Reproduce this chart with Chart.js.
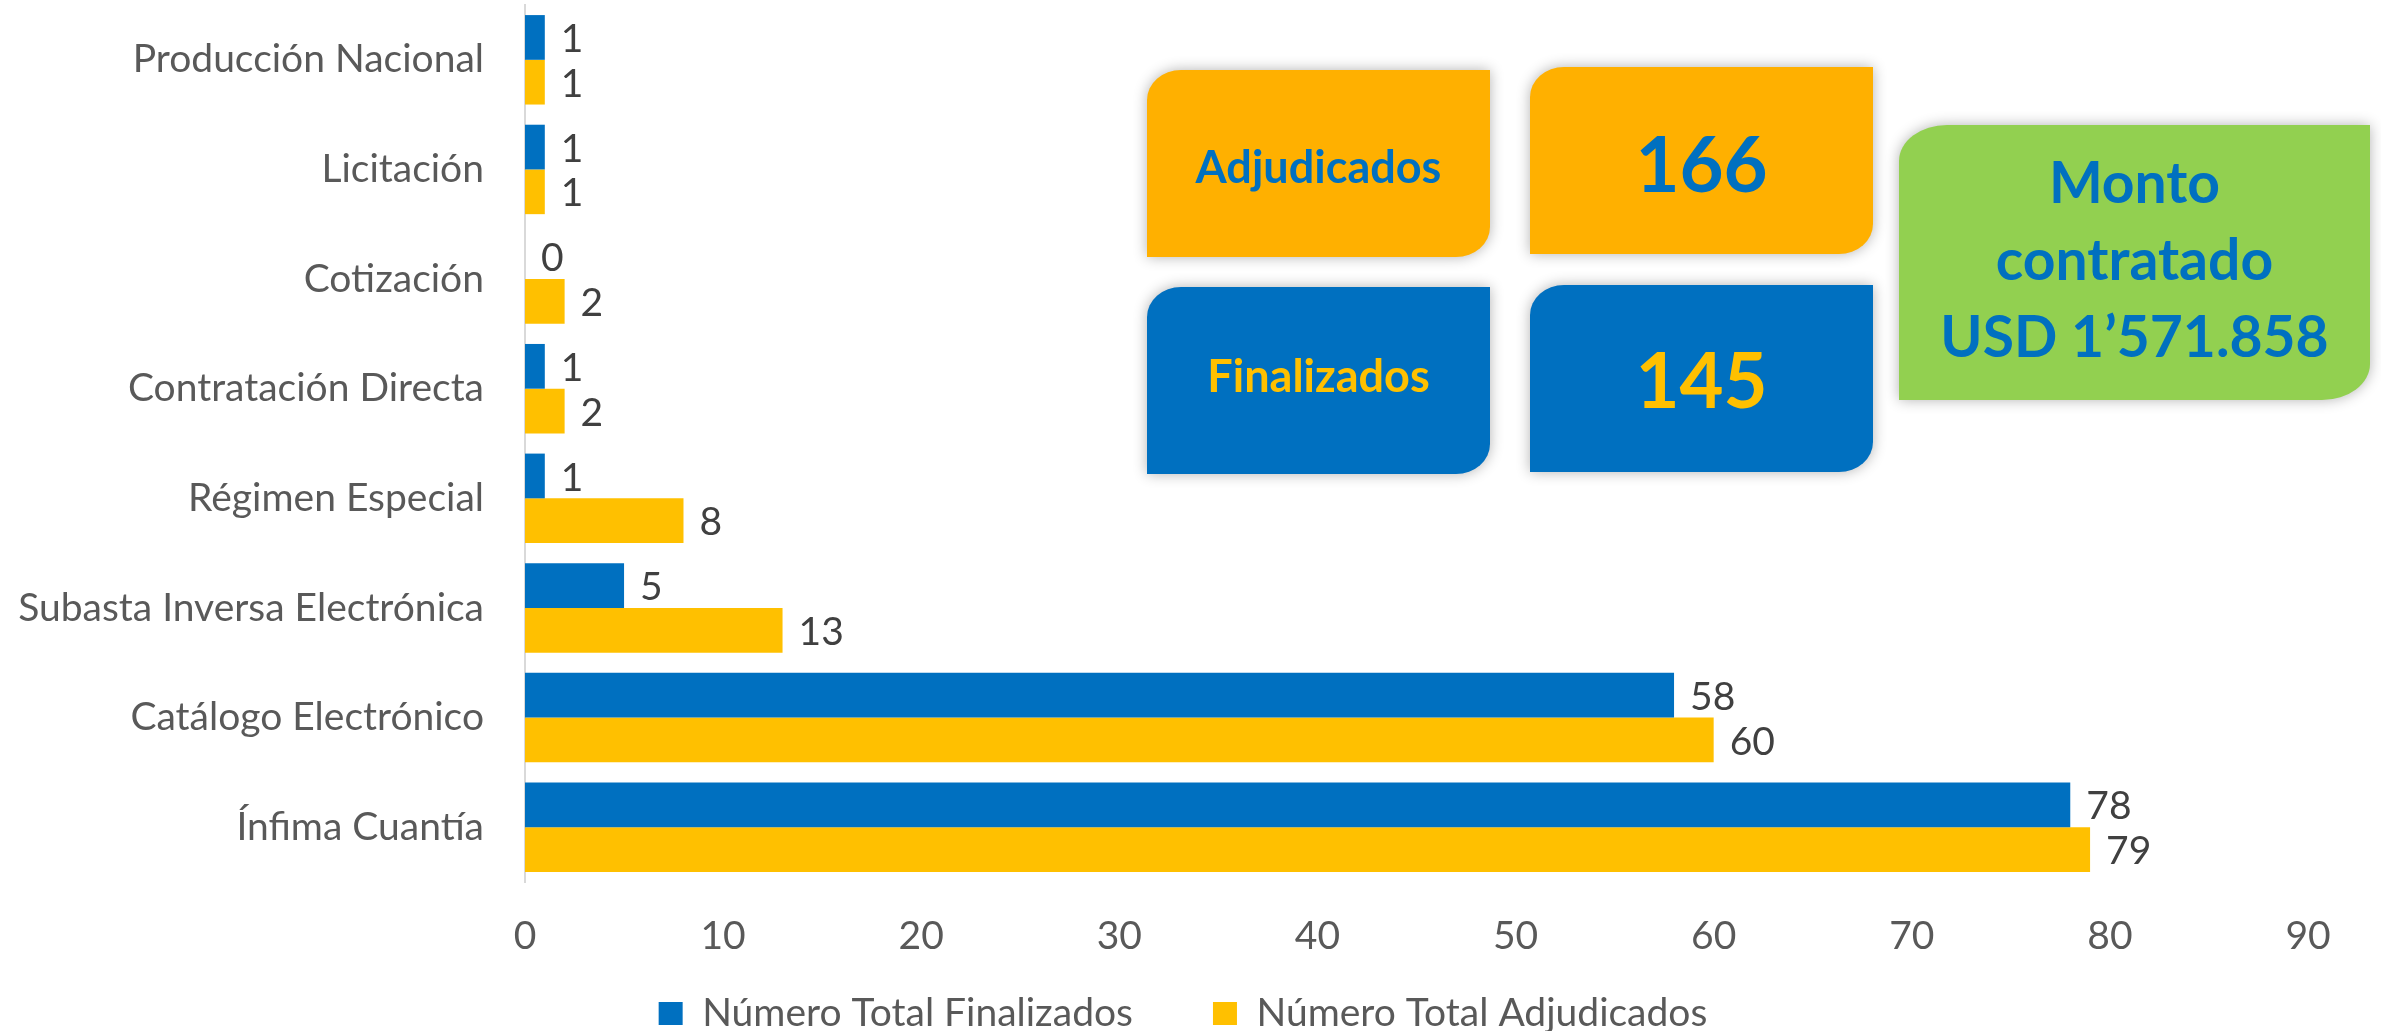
<!DOCTYPE html>
<html lang="es">
<head>
<meta charset="utf-8">
<title>Procesos de contratación</title>
<script src="https://cdn.jsdelivr.net/npm/chart.js@4.4.0/dist/chart.umd.min.js"></script>
<style>
  html, body { margin: 0; padding: 0; background: #fff; }
  .wrap { position: relative; width: 2381px; height: 1031px; overflow: hidden; }
  .box {
    position: absolute;
    display: flex;
    align-items: center;
    justify-content: center;
    text-align: center;
    font-family: Lato, sans-serif;
    font-weight: 700;
    box-shadow: 0 0 14px rgba(0, 0, 0, 0.3);
  }
</style>
</head>
<body>
<div class="wrap" id="wrap">
  <canvas id="chart" width="2381" height="1031"></canvas>
</div>
<script>
// datos
const categories = [
  'Producción Nacional',
  'Licitación',
  'Cotización',
  'Contratación Directa',
  'Régimen Especial',
  'Subasta Inversa Electrónica',
  'Catálogo Electrónico',
  'Ínfima Cuantía',
];
const finalizados = [1, 1, 0, 1, 1, 5, 58, 78];
const adjudicados = [1, 1, 2, 2, 8, 13, 60, 79];
const seriesNames = ['Número Total Finalizados', 'Número Total Adjudicados'];
const xTicks = [0, 10, 20, 30, 40, 50, 60, 70, 80, 90];

const summaryLabels = ['Adjudicados', 'Finalizados'];
const summaryTotals = ['166', '145'];
const montoLines = ['Monto', 'contratado', 'USD 1’571.858'];

const BLUE = '#0070C0';
const YELLOW = '#FFC000';
const FONT = 'Lato';
const TXT = 39;

// cajas de resumen (posiciones en px)
const smallR = '34px 0 34px 0 / 30px 0 30px 0';
const boxes = [
  { text: summaryLabels[0], x: 1147, y: 70, w: 343, h: 187, bg: '#FFB000', color: BLUE, size: 45, r: smallR, dy: 2 },
  { text: summaryTotals[0], x: 1530, y: 67, w: 343, h: 187, bg: '#FFB000', color: BLUE, size: 76, r: smallR, dy: 2 },
  { text: summaryLabels[1], x: 1147, y: 287, w: 343, h: 187, bg: BLUE, color: YELLOW, size: 45, r: smallR, dy: -6 },
  { text: summaryTotals[1], x: 1530, y: 285, w: 343, h: 187, bg: BLUE, color: YELLOW, size: 76, r: smallR, dy: 0 },
  { text: montoLines.join('<br>'), x: 1899, y: 125, w: 471, h: 275, bg: '#92D050', color: BLUE, size: 57, r: '48px 0 48px 0 / 36px 0 36px 0', lh: 77, dy: -4 },
];

const wrap = document.getElementById('wrap');
boxes.forEach((b) => {
  const el = document.createElement('div');
  el.className = 'box';
  el.style.left = b.x + 'px';
  el.style.top = b.y + 'px';
  el.style.width = b.w + 'px';
  el.style.height = b.h + 'px';
  el.style.background = b.bg;
  el.style.color = b.color;
  el.style.fontSize = b.size + 'px';
  el.style.borderRadius = b.r;
  if (b.lh) el.style.lineHeight = b.lh + 'px';
  el.innerHTML = `<span style="position:relative;top:${b.dy}px">${b.text}</span>`;
  wrap.append(el);
});

// etiquetas de valor al final de cada barra
const barLabels = {
  id: 'barLabels',
  afterDatasetsDraw(chart) {
    const ctx = chart.ctx;
    ctx.save();
    ctx.font = `${TXT}px ${FONT}`;
    ctx.fillStyle = '#404040';
    ctx.textAlign = 'left';
    ctx.textBaseline = 'middle';
    chart.data.datasets.forEach((ds, i) => {
      chart.getDatasetMeta(i).data.forEach((bar, j) => {
        ctx.fillText(ds.data[j], bar.x + 16, bar.y + 2);
      });
    });
    ctx.restore();
  },
};

new Chart(document.getElementById('chart'), {
  type: 'bar',
  data: {
    labels: categories,
    datasets: [
      { label: seriesNames[0], data: finalizados, backgroundColor: BLUE },
      { label: seriesNames[1], data: adjudicados, backgroundColor: YELLOW },
    ],
  },
  options: {
    indexAxis: 'y',
    responsive: false,
    animation: false,
    categoryPercentage: 0.816,
    barPercentage: 1,
    layout: { padding: { left: 0, right: 15, top: 5, bottom: 0 } },
    scales: {
      x: {
        min: 0,
        max: 90,
        afterBuildTicks: (axis) => {
          axis.ticks = xTicks.map((v) => ({ value: v }));
        },
        afterFit: (scale) => {
          scale.height = 32;
        },
        ticks: {
          color: '#595959',
          font: { family: FONT, size: TXT },
          mirror: true,
          padding: -78,
          maxRotation: 0,
        },
        grid: { display: false, drawTicks: false },
        border: { display: false },
      },
      y: {
        afterFit: (scale) => {
          scale.width = 525;
          scale.paddingTop = 0;
          scale.paddingBottom = 0;
        },
        ticks: {
          color: '#595959',
          font: { family: FONT, size: TXT },
          padding: 41,
          autoSkip: false,
        },
        grid: { display: false, drawTicks: false },
        border: { display: true, color: '#D9D9D9', width: 2 },
      },
      // eje vacío a la derecha: deja el margen y centra la leyenda
      yRight: {
        type: 'category',
        position: 'right',
        afterFit: (scale) => {
          scale.width = 58;
          scale.paddingTop = 0;
          scale.paddingBottom = 0;
        },
        ticks: { display: false },
        grid: { display: false, drawTicks: false },
        border: { display: false },
      },
    },
    plugins: {
      legend: {
        position: 'bottom',
        maxHeight: 117,
        labels: {
          color: '#595959',
          font: { family: FONT, size: TXT },
          boxWidth: 24,
          boxHeight: 23,
          padding: 80,
        },
      },
      tooltip: { enabled: false },
    },
  },
  plugins: [barLabels],
});
</script>
</body>
</html>
